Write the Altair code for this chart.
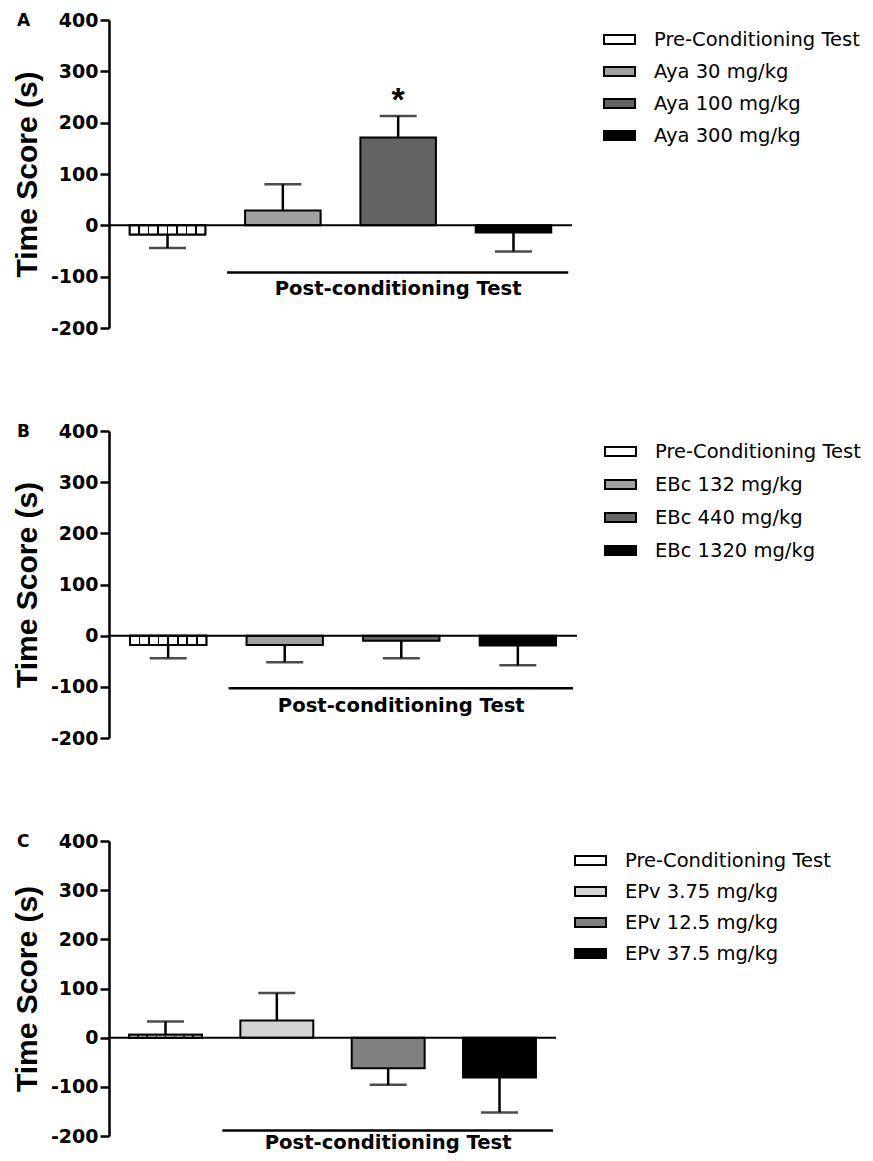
import altair as alt
import pandas as pd

# ---------------- data ----------------
groups_a = ["Pre-Conditioning Test", "Aya 30 mg/kg", "Aya 100 mg/kg", "Aya 300 mg/kg"]
means_a = [-18, 29, 171, -14]
sems_a = [26, 51, 42, 37]
sig_a = [False, False, True, False]
colors_a = ["#ffffff", "#a0a0a0", "#636363", "#000000"]

groups_b = ["Pre-Conditioning Test", "EBc 132 mg/kg", "EBc 440 mg/kg", "EBc 1320 mg/kg"]
means_b = [-18, -18, -10, -19]
sems_b = [26, 34, 34, 39]
sig_b = [False, False, False, False]
colors_b = ["#ffffff", "#a0a0a0", "#666666", "#000000"]

groups_c = ["Pre-Conditioning Test", "EPv 3.75 mg/kg", "EPv 12.5 mg/kg", "EPv 37.5 mg/kg"]
means_c = [6, 35, -62, -81]
sems_c = [27, 56, 34, 71]
sig_c = [False, False, False, False]
colors_c = ["#ffffff", "#d4d4d4", "#808080", "#000000"]

panel_letters = ["A", "B", "C"]
post_label = "Post-conditioning Test"
post_line_level = [-92, -103, -189]
y_ticks = [-200, -100, 0, 100, 200, 300, 400]

# ---------------- styles ----------------
def stripe_gradient(n=8, t=0.022):
    stops = [alt.GradientStop(offset=0, color="white")]
    for i in range(1, n):
        c = i / n
        stops += [
            alt.GradientStop(offset=c - t / 2, color="white"),
            alt.GradientStop(offset=c - t / 2, color="black"),
            alt.GradientStop(offset=c + t / 2, color="black"),
            alt.GradientStop(offset=c + t / 2, color="white"),
        ]
    stops.append(alt.GradientStop(offset=1, color="white"))
    return alt.LinearGradient(gradient="linear", stops=stops, x1=0, x2=1, y1=0, y2=0)


def panel(groups, means, sems, sig, colors, letter, line_level, width, height,
          legend_offset, legend_top, row_pad, text_dy):
    ends = [m + (s if m >= 0 else -s) for m, s in zip(means, sems)]
    df = pd.DataFrame({"group": groups, "mean": means, "end": ends, "sig": sig})
    xscale = alt.Scale(domain=groups, paddingInner=0.345, paddingOuter=0.18)
    yscale = alt.Scale(domain=[-200, 400], nice=False)
    x = alt.X("group:N", scale=xscale, axis=None, sort=groups)
    base = alt.Chart(df)

    bars = base.mark_bar(stroke="black", strokeWidth=2).encode(
        x=x,
        y=alt.Y("mean:Q", scale=yscale,
                axis=alt.Axis(title="Time Score (s)", values=y_ticks, grid=False,
                              labelExpr="'' + datum.value")),
        fill=alt.Fill("group:N", sort=groups,
                      scale=alt.Scale(domain=groups, range=colors),
                      legend=alt.Legend(title=None, orient="none",
                                        legendX=width + legend_offset, legendY=legend_top,
                                        rowPadding=row_pad)),
    )
    pattern = base.transform_filter(alt.datum.group == groups[0]).mark_bar(
        fill=stripe_gradient(), stroke="black", strokeWidth=2
    ).encode(x=x, y="mean:Q")
    stems = base.mark_rule(color="black", strokeWidth=2.5).encode(x=x, y="mean:Q", y2="end:Q")
    caps = base.mark_tick(color="black", size=37, thickness=2.5).encode(x=x, y="end:Q")
    zero = alt.Chart(pd.DataFrame({"z": [0]})).mark_rule(color="black", strokeWidth=2).encode(y="z:Q")

    post_df = pd.DataFrame({"start": [groups[1]], "stop": [groups[3]], "mid": [groups[2]],
                            "lvl": [line_level], "label": [post_label]})
    post_line = alt.Chart(post_df).mark_rule(color="black", strokeWidth=2.5, xOffset=-18, x2Offset=17).encode(
        x=alt.X("start:N", scale=xscale, bandPosition=0, axis=None),
        x2=alt.X2("stop:N", bandPosition=1),
        y="lvl:Q",
    )
    post_text = alt.Chart(post_df).mark_text(
        font="DejaVu Sans", fontWeight="bold", fontSize=19.6, color="black",
        baseline="alphabetic", dy=text_dy
    ).encode(x=alt.X("mid:N", scale=xscale, axis=None), y="lvl:Q", text="label:N")

    star = base.transform_filter(alt.datum.sig).mark_text(
        text="*", font="Liberation Sans", fontWeight="bold", fontSize=34, color="black",
        baseline="middle", dy=-15
    ).encode(x=x, y="end:Q")

    letter_mark = alt.Chart(pd.DataFrame({"t": [letter]})).mark_text(
        font="DejaVu Sans", fontWeight="bold", fontSize=17, color="black",
        align="left", baseline="middle"
    ).encode(x=alt.value(-92), y=alt.value(1), text="t:N")

    return alt.layer(bars, pattern, stems, caps, zero, post_line, post_text, star, letter_mark).properties(
        width=width, height=height
    )


pa = panel(groups_a, means_a, sems_a, sig_a, colors_a, panel_letters[0], post_line_level[0],
           463, 308, 31, 3, 6, 22)
pb = panel(groups_b, means_b, sems_b, sig_b, colors_b, panel_letters[1], post_line_level[1],
           468, 307, 27, 4, 7, 24)
pc = panel(groups_c, means_c, sems_c, sig_c, colors_c, panel_letters[2], post_line_level[2],
           447, 295, 18, 3, 5, 18)

chart = alt.vconcat(pa, pb, pc, spacing=84).resolve_scale(
    fill="independent", x="independent", y="independent"
).properties(
    padding={"left": 4, "top": 3, "right": 0, "bottom": 0}
).configure_view(
    stroke=None
).configure_axis(
    domainColor="black", domainWidth=2.5, tickColor="black", tickWidth=2.5, tickSize=9,
    labelPadding=2, labelFont="DejaVu Sans", labelFontWeight="bold", labelFontSize=19,
    labelColor="black", titleFont="Liberation Sans", titleFontSize=30, titleFontWeight="bold",
    titleColor="black", titlePadding=8,
).configure_legend(
    symbolType="M-1,-0.29L1,-0.29L1,0.29L-1,0.29Z", symbolSize=961,
    symbolStrokeColor="black", symbolStrokeWidth=2, labelFont="DejaVu Sans", labelFontSize=19.5,
    labelColor="black", labelOffset=18, labelLimit=0, padding=0,
)

chart.save("out.html", embed_options={"renderer": "svg", "actions": False})
